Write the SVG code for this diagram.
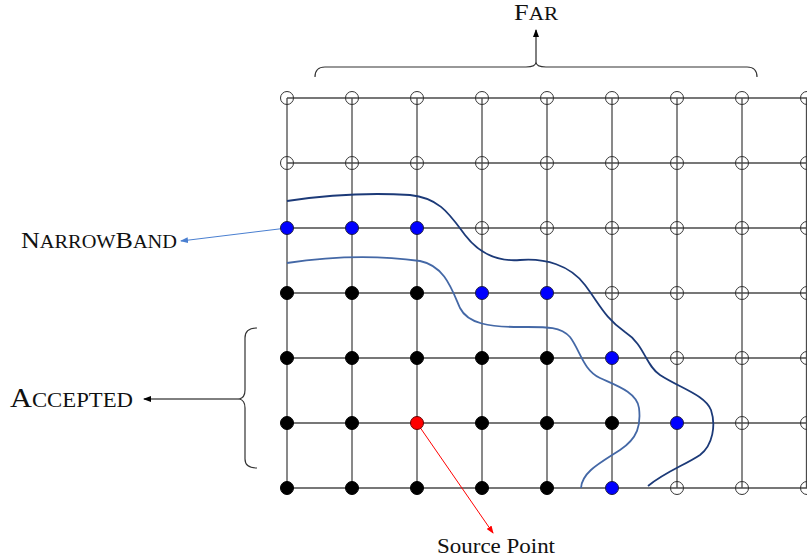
<svg xmlns="http://www.w3.org/2000/svg" width="807" height="560" viewBox="0 0 807 560">
<style>
.grid line{stroke:#4a4a4a;stroke-width:1.3}
.o{fill:none;stroke:#333;stroke-width:1}
.k{fill:#000;stroke:#000;stroke-width:1}
.b{fill:#0000ff;stroke:#1a1a40;stroke-width:1}
.r{fill:#ff0000;stroke:#600;stroke-width:1}
.lbl{font-family:"Liberation Serif","DejaVu Serif",serif;fill:#111}
</style>
<defs>
<marker id="ak" markerWidth="8" markerHeight="6" refX="7" refY="3" orient="auto" markerUnits="userSpaceOnUse"><path d="M0,0 L8,3 L0,6 Z" fill="#000"/></marker>
<marker id="ab" markerWidth="8" markerHeight="6" refX="7" refY="3" orient="auto" markerUnits="userSpaceOnUse"><path d="M0,0 L8,3 L0,6 Z" fill="#4a7fd0"/></marker>
<marker id="ar" markerWidth="8" markerHeight="6" refX="7" refY="3" orient="auto" markerUnits="userSpaceOnUse"><path d="M0,0 L8,3 L0,6 Z" fill="#ff0000"/></marker>
</defs>
<rect width="807" height="560" fill="#fff"/>
<g class="grid">
<line x1="287" y1="98" x2="807" y2="98"/><line x1="287" y1="163" x2="807" y2="163"/><line x1="287" y1="228" x2="807" y2="228"/><line x1="287" y1="293" x2="807" y2="293"/><line x1="287" y1="358" x2="807" y2="358"/><line x1="287" y1="423" x2="807" y2="423"/><line x1="287" y1="488" x2="807" y2="488"/>
<line x1="287" y1="98" x2="287" y2="488"/><line x1="352" y1="98" x2="352" y2="488"/><line x1="417" y1="98" x2="417" y2="488"/><line x1="482" y1="98" x2="482" y2="488"/><line x1="547" y1="98" x2="547" y2="488"/><line x1="612" y1="98" x2="612" y2="488"/><line x1="677" y1="98" x2="677" y2="488"/><line x1="742" y1="98" x2="742" y2="488"/><line x1="806.5" y1="98" x2="806.5" y2="488"/>
</g>
<g id="connectors" fill="none">
<path id="front-outer" d="M287,201 C320,196 360,192 410,195 C440,198 450,215 465,235 C478,252 495,262 520,260 C545,258 570,265 585,285 C600,305 605,318 625,332 C645,345 645,365 660,375 C680,388 705,395 711,410 C716,425 713,445 700,455 C685,465 665,472 648,486" stroke="#1c3a78" stroke-width="1.8"/>
<path id="front-inner" d="M287,263 C320,258 370,254 420,261 C445,266 452,290 460,308 C468,324 490,327 520,327 C545,327 560,326 570,337 C580,350 583,370 600,378 C615,385 637,392 639,408 C641,425 638,438 620,450 C600,463 582,472 581,488" stroke="#4468a6" stroke-width="1.8"/>
<path id="far-brace" d="M315,77 Q315,67 325,67 L526,67 Q536,67 536,62 Q536,67 546,67 L747,67 Q757,67 757,77" stroke="#333" stroke-width="1.2"/>
<line x1="536" y1="62" x2="536" y2="30" stroke="#000" stroke-width="1" marker-end="url(#ak)"/>
<path id="acc-brace" d="M257,328 Q245,328 245,338 L245,390 Q245,398 239,399 Q245,400 245,408 L245,459 Q245,468 257,468" stroke="#333" stroke-width="1.2"/>
<line x1="239" y1="399" x2="144" y2="399" stroke="#000" stroke-width="1" marker-end="url(#ak)"/>
<line x1="287" y1="228" x2="181" y2="241" stroke="#4a7fd0" stroke-width="1" marker-end="url(#ab)"/>
<line x1="417" y1="423" x2="493" y2="533" stroke="#ff0000" stroke-width="1" marker-end="url(#ar)"/>
</g>
<g id="nodes">
<g id="n0-0"><circle class="o" cx="287" cy="98" r="6.5"/></g><g id="n0-1"><circle class="o" cx="352" cy="98" r="6.5"/></g><g id="n0-2"><circle class="o" cx="417" cy="98" r="6.5"/></g><g id="n0-3"><circle class="o" cx="482" cy="98" r="6.5"/></g><g id="n0-4"><circle class="o" cx="547" cy="98" r="6.5"/></g><g id="n0-5"><circle class="o" cx="612" cy="98" r="6.5"/></g><g id="n0-6"><circle class="o" cx="677" cy="98" r="6.5"/></g><g id="n0-7"><circle class="o" cx="742" cy="98" r="6.5"/></g><g id="n0-8"><circle class="o" cx="807" cy="98" r="6.5"/></g>
<g id="n1-0"><circle class="o" cx="287" cy="163" r="6.5"/></g><g id="n1-1"><circle class="o" cx="352" cy="163" r="6.5"/></g><g id="n1-2"><circle class="o" cx="417" cy="163" r="6.5"/></g><g id="n1-3"><circle class="o" cx="482" cy="163" r="6.5"/></g><g id="n1-4"><circle class="o" cx="547" cy="163" r="6.5"/></g><g id="n1-5"><circle class="o" cx="612" cy="163" r="6.5"/></g><g id="n1-6"><circle class="o" cx="677" cy="163" r="6.5"/></g><g id="n1-7"><circle class="o" cx="742" cy="163" r="6.5"/></g><g id="n1-8"><circle class="o" cx="807" cy="163" r="6.5"/></g>
<g id="n2-0"><circle class="b" cx="287" cy="228" r="6.5"/></g><g id="n2-1"><circle class="b" cx="352" cy="228" r="6.5"/></g><g id="n2-2"><circle class="b" cx="417" cy="228" r="6.5"/></g><g id="n2-3"><circle class="o" cx="482" cy="228" r="6.5"/></g><g id="n2-4"><circle class="o" cx="547" cy="228" r="6.5"/></g><g id="n2-5"><circle class="o" cx="612" cy="228" r="6.5"/></g><g id="n2-6"><circle class="o" cx="677" cy="228" r="6.5"/></g><g id="n2-7"><circle class="o" cx="742" cy="228" r="6.5"/></g><g id="n2-8"><circle class="o" cx="807" cy="228" r="6.5"/></g>
<g id="n3-0"><circle class="k" cx="287" cy="293" r="6.5"/></g><g id="n3-1"><circle class="k" cx="352" cy="293" r="6.5"/></g><g id="n3-2"><circle class="k" cx="417" cy="293" r="6.5"/></g><g id="n3-3"><circle class="b" cx="482" cy="293" r="6.5"/></g><g id="n3-4"><circle class="b" cx="547" cy="293" r="6.5"/></g><g id="n3-5"><circle class="o" cx="612" cy="293" r="6.5"/></g><g id="n3-6"><circle class="o" cx="677" cy="293" r="6.5"/></g><g id="n3-7"><circle class="o" cx="742" cy="293" r="6.5"/></g><g id="n3-8"><circle class="o" cx="807" cy="293" r="6.5"/></g>
<g id="n4-0"><circle class="k" cx="287" cy="358" r="6.5"/></g><g id="n4-1"><circle class="k" cx="352" cy="358" r="6.5"/></g><g id="n4-2"><circle class="k" cx="417" cy="358" r="6.5"/></g><g id="n4-3"><circle class="k" cx="482" cy="358" r="6.5"/></g><g id="n4-4"><circle class="k" cx="547" cy="358" r="6.5"/></g><g id="n4-5"><circle class="b" cx="612" cy="358" r="6.5"/></g><g id="n4-6"><circle class="o" cx="677" cy="358" r="6.5"/></g><g id="n4-7"><circle class="o" cx="742" cy="358" r="6.5"/></g><g id="n4-8"><circle class="o" cx="807" cy="358" r="6.5"/></g>
<g id="n5-0"><circle class="k" cx="287" cy="423" r="6.5"/></g><g id="n5-1"><circle class="k" cx="352" cy="423" r="6.5"/></g><g id="n5-2"><circle class="r" cx="417" cy="423" r="6.5"/></g><g id="n5-3"><circle class="k" cx="482" cy="423" r="6.5"/></g><g id="n5-4"><circle class="k" cx="547" cy="423" r="6.5"/></g><g id="n5-5"><circle class="k" cx="612" cy="423" r="6.5"/></g><g id="n5-6"><circle class="b" cx="677" cy="423" r="6.5"/></g><g id="n5-7"><circle class="o" cx="742" cy="423" r="6.5"/></g><g id="n5-8"><circle class="o" cx="807" cy="423" r="6.5"/></g>
<g id="n6-0"><circle class="k" cx="287" cy="488" r="6.5"/></g><g id="n6-1"><circle class="k" cx="352" cy="488" r="6.5"/></g><g id="n6-2"><circle class="k" cx="417" cy="488" r="6.5"/></g><g id="n6-3"><circle class="k" cx="482" cy="488" r="6.5"/></g><g id="n6-4"><circle class="k" cx="547" cy="488" r="6.5"/></g><g id="n6-5"><circle class="b" cx="612" cy="488" r="6.5"/></g><g id="n6-6"><circle class="o" cx="677" cy="488" r="6.5"/></g><g id="n6-7"><circle class="o" cx="742" cy="488" r="6.5"/></g><g id="n6-8"><circle class="o" cx="807" cy="488" r="6.5"/></g>
</g>
<g id="labels">
<text id="far" class="lbl" x="514" y="19.5" textLength="44" lengthAdjust="spacingAndGlyphs"><tspan font-size="23">F</tspan><tspan font-size="18.5">AR</tspan></text>
<text id="narrowband" class="lbl" x="21" y="248" textLength="156" lengthAdjust="spacingAndGlyphs"><tspan font-size="23">N</tspan><tspan font-size="18">ARROW</tspan><tspan font-size="23">B</tspan><tspan font-size="18">AND</tspan></text>
<text id="accepted" class="lbl" x="10" y="407" textLength="123" lengthAdjust="spacingAndGlyphs"><tspan font-size="28">A</tspan><tspan font-size="21">CCEPTED</tspan></text>
<text id="source" class="lbl" x="437" y="553" font-size="20" textLength="118" lengthAdjust="spacingAndGlyphs">Source Point</text>
</g>
</svg>
